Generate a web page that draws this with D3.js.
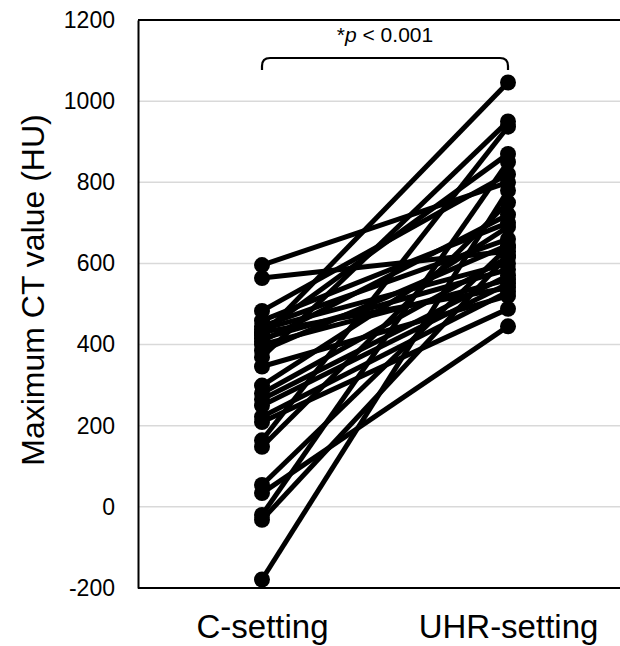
<!DOCTYPE html>
<html>
<head>
<meta charset="utf-8">
<script src="https://cdn.jsdelivr.net/npm/d3@7"></script>
<style>
  body { margin: 0; background: #fff; }
  text { font-family: "Liberation Sans", Arial, sans-serif; }
</style>
</head>
<body>
<div class="chart-container"></div>
<script>
// categories and paired values (HU)
const categories = ["C-setting", "UHR-setting"];
const cValues   = [596, 564, 483, 459, 445, 438, 430, 430, 422, 415, 408, 400, 385, 369, 346, 299, 280, 265, 250, 222, 209, 164, 148, 54, 34, -20, -32, -179];
const uhrValues = [800, 630, 820, 700, 660, 600, 540, 870, 1046, 585, 720, 560, 645, 950, 520, 690, 615, 570, 550, 530, 488, 937, 750, 640, 445, 850, 620, 780];
const yTicks = [-200, 0, 200, 400, 600, 800, 1000, 1200];

const W = 620, H = 646;
const margin = {top: 20, right: 0, bottom: 58, left: 138},
    width = W - margin.left - margin.right,
    height = H - margin.top - margin.bottom;

const svg = d3.select(".chart-container")
    .append("svg")
    .attr("width", W)
    .attr("height", H);

const g = svg.append("g")
    .attr("transform", `translate(${margin.left},${margin.top})`);

const x = d3.scalePoint()
    .domain(categories)
    .range([124, 370]);

const y = d3.scaleLinear()
    .domain([-200, 1200])
    .range([height, 0]);

// gridlines
g.selectAll(".grid")
    .data(yTicks.filter(t => t > -200 && t < 1200))
    .enter()
    .append("line")
    .attr("x1", 0).attr("x2", width)
    .attr("y1", d => y(d)).attr("y2", d => y(d))
    .attr("stroke", "#d9d9d9")
    .attr("stroke-width", 1.5);

// y axis
const yAxis = g.append("g")
    .call(d3.axisLeft(y).tickValues(yTicks).tickFormat(d => String(d)).tickSize(0).tickPadding(23));
yAxis.select(".domain").attr("stroke", "#000").attr("stroke-width", 2);
yAxis.selectAll("text").attr("font-size", 23).attr("fill", "#000");

// frame top
g.append("line")
    .attr("x1", 0).attr("x2", width)
    .attr("y1", 0).attr("y2", 0)
    .attr("stroke", "#000").attr("stroke-width", 2);

// x axis
const xAxis = g.append("g")
    .attr("transform", `translate(0,${height})`)
    .call(d3.axisBottom(x).tickSize(0).tickPadding(20));
xAxis.select(".domain").attr("d", `M0,0H${width}`).attr("stroke", "#000").attr("stroke-width", 2);
xAxis.selectAll("text").attr("font-size", 33).attr("fill", "#000").attr("dy", "0.9em");

// axis title
svg.append("text")
    .attr("transform", `translate(44,290) rotate(-90)`)
    .attr("text-anchor", "middle")
    .attr("font-size", 32)
    .text("Maximum CT value (HU)");

// paired lines
const pairs = cValues.map((c, i) => [c, uhrValues[i]]);

g.selectAll(".pair")
    .data(pairs)
    .enter()
    .append("line")
    .attr("class", "pair")
    .attr("x1", x(categories[0]))
    .attr("x2", x(categories[1]))
    .attr("y1", d => y(d[0]))
    .attr("y2", d => y(d[1]))
    .attr("stroke", "#000")
    .attr("stroke-width", 5);

g.selectAll(".dotC")
    .data(cValues)
    .enter()
    .append("circle")
    .attr("cx", x(categories[0]))
    .attr("cy", d => y(d))
    .attr("r", 8)
    .attr("fill", "#000");

g.selectAll(".dotU")
    .data(uhrValues)
    .enter()
    .append("circle")
    .attr("cx", x(categories[1]))
    .attr("cy", d => y(d))
    .attr("r", 8)
    .attr("fill", "#000");

// significance bracket
const bx1 = x(categories[0]), bx2 = x(categories[1]);
const bTop = 38, bBot = 50, r = 8;
g.append("path")
    .attr("d", `M${bx1},${bBot} V${bTop + r} Q${bx1},${bTop} ${bx1 + r},${bTop} H${bx2 - r} Q${bx2},${bTop} ${bx2},${bTop + r} V${bBot}`)
    .attr("fill", "none")
    .attr("stroke", "#000")
    .attr("stroke-width", 2.2);

const pt = g.append("text")
    .attr("x", (bx1 + bx2) / 2)
    .attr("y", 22)
    .attr("text-anchor", "middle")
    .attr("font-size", 21);
pt.append("tspan").text("*");
pt.append("tspan").attr("font-style", "italic").text("p");
pt.append("tspan").text(" < 0.001");
</script>
</body>
</html>
